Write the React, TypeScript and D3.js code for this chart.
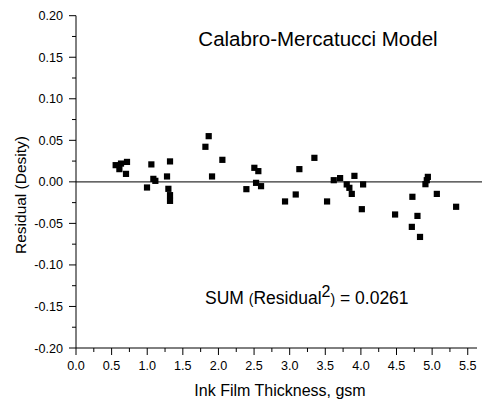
import React from "react";
import * as d3 from "d3";

const thickness = [
  0.557, 0.632, 0.609, 0.716, 0.702,
  0.997, 1.058, 1.086, 1.114,
  1.278, 1.32, 1.297, 1.32, 1.32,
  1.817, 1.863, 1.91, 2.055,
  2.392, 2.504, 2.56, 2.528, 2.598,
  2.935, 3.085, 3.136, 3.347, 3.525, 3.619, 3.708, 3.801, 3.838, 3.872, 3.909,
  4.031, 4.013, 4.48, 4.723, 4.794, 4.715, 4.83, 4.906, 4.925, 4.94, 5.066, 5.337,
];
const residual = [
  0.0201, 0.022, 0.0153, 0.024, 0.0096,
  -0.0068, 0.021, 0.0036, 0.0012,
  0.0065, 0.0246, -0.0084, -0.016, -0.0229,
  0.0422, 0.055, 0.0065, 0.0265,
  -0.0088, 0.0169, 0.0129, -0.0012, -0.0052,
  -0.0236, -0.0152, 0.0153, 0.0289, -0.0236, 0.002, 0.0045, -0.0031, -0.0072, -0.0145, 0.0072,
  -0.0031, -0.0329, -0.0393, -0.018, -0.041, -0.0542, -0.0663, -0.0028, 0.002, 0.006, -0.0145, -0.030,
];
const xTicks = [0, 0.5, 1, 1.5, 2, 2.5, 3, 3.5, 4, 4.5, 5, 5.5];
const yTicks = [-0.2, -0.15, -0.1, -0.05, 0, 0.05, 0.1, 0.15, 0.2];

const FONT = "'Liberation Sans', Arial, sans-serif";

export default function App() {
  const W = 482, H = 408;
  const x = d3.scaleLinear().domain([0, 5.63]).range([76, 477]);
  const y = d3.scaleLinear().domain([-0.2, 0.2]).range([348, 15.7]);
  const xMinor = d3.range(0.25, 5.6, 0.5);
  const yMinor = d3.range(-0.175, 0.2, 0.05);
  const s = 6.2;
  return (
    <svg width={W} height={H} style={{ position: "absolute", left: 0, top: 0, background: "#fff" }} fontFamily={FONT}>
      <rect width={W} height={H} fill="#fff" />
      {/* zero line */}
      <line x1={x(0)} x2={482} y1={y(0)} y2={y(0)} stroke="#333" strokeWidth={1.2} />
      {/* axes */}
      <line x1={x(0)} x2={x(0)} y1={y(0.2)} y2={y(-0.2)} stroke="#000" strokeWidth={1} />
      <line x1={x(0)} x2={477} y1={y(-0.2)} y2={y(-0.2)} stroke="#000" strokeWidth={1} />
      {yTicks.map((t) => (
        <g key={"y" + t}>
          <line x1={x(0) - 7} x2={x(0)} y1={y(t)} y2={y(t)} stroke="#000" />
          <text x={63} y={y(t) + 4.5} textAnchor="end" fontSize={12.6}>
            {t.toFixed(2)}
          </text>
        </g>
      ))}
      {yMinor.map((t) => (
        <line key={"ym" + t} x1={x(0) - 4} x2={x(0)} y1={y(t)} y2={y(t)} stroke="#000" />
      ))}
      {xTicks.map((t) => (
        <g key={"x" + t}>
          <line x1={x(t)} x2={x(t)} y1={y(-0.2)} y2={y(-0.2) + 7} stroke="#000" />
          <text x={x(t)} y={369.5} textAnchor="middle" fontSize={12.6}>
            {t.toFixed(1)}
          </text>
        </g>
      ))}
      {xMinor.map((t) => (
        <line key={"xm" + t} x1={x(t)} x2={x(t)} y1={y(-0.2)} y2={y(-0.2) + 4} stroke="#000" />
      ))}
      {/* points */}
      {thickness.map((t, i) => (
        <rect key={i} x={x(t) - s / 2} y={y(residual[i]) - s / 2} width={s} height={s} fill="#000" />
      ))}
      {/* texts */}
      <text x={280} y={396} textAnchor="middle" fontSize={16}>Ink Film Thickness, gsm</text>
      <text transform={`translate(26,195) rotate(-90)`} textAnchor="middle" fontSize={15.5}>Residual (Desity)</text>
      <text x={318} y={46} textAnchor="middle" fontSize={20.5}>Calabro-Mercatucci Model</text>
      <text x={205} y={304} fontSize={17.5}>
        <tspan>SUM </tspan>
        <tspan fontSize={14}>(</tspan>
        <tspan>Residual</tspan>
        <tspan fontSize={16} dy={-7}>2</tspan>
        <tspan fontSize={14} dy={7}>)</tspan>
        <tspan> = 0.0261</tspan>
      </text>
    </svg>
  );
}
